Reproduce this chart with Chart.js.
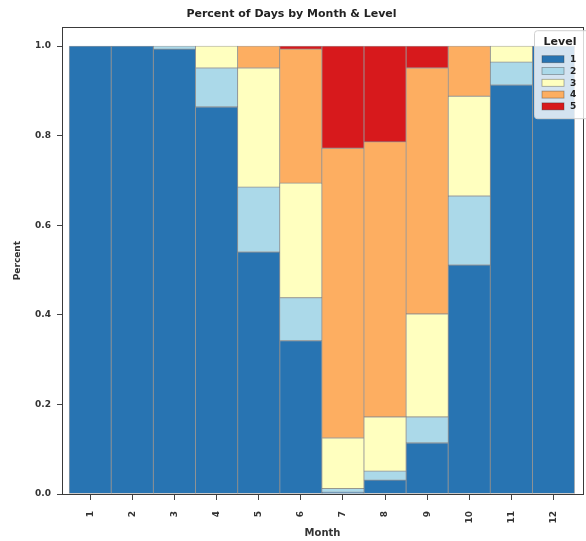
<!DOCTYPE html>
<html>
<head>
<meta charset="utf-8">
<script src="https://cdn.jsdelivr.net/npm/chart.js@4.4.1/dist/chart.umd.min.js"></script>
<style>
  html, body { margin: 0; padding: 0; background: #ffffff; }
  #wrap { width: 586px; height: 541px; }
</style>
</head>
<body>
<div id="wrap"><canvas id="c" width="586" height="541"></canvas></div>
<script>
// Months on the x axis
const months = [1, 2, 3, 4, 5, 6, 7, 8, 9, 10, 11, 12];
// Share of days at each level, per month
const level1 = [1.000, 1.000, 0.993, 0.864, 0.540, 0.342, 0.004, 0.031, 0.114, 0.511, 0.913, 1.000];
const level2 = [0.000, 0.000, 0.007, 0.087, 0.145, 0.096, 0.008, 0.020, 0.058, 0.154, 0.051, 0.000];
const level3 = [0.000, 0.000, 0.000, 0.049, 0.266, 0.256, 0.113, 0.121, 0.230, 0.223, 0.036, 0.000];
const level4 = [0.000, 0.000, 0.000, 0.000, 0.049, 0.299, 0.647, 0.614, 0.549, 0.112, 0.000, 0.000];
const level5 = [0.000, 0.000, 0.000, 0.000, 0.000, 0.007, 0.228, 0.214, 0.049, 0.000, 0.000, 0.000];
const levelNames = ['1', '2', '3', '4', '5'];
const yTicks = [0.0, 0.2, 0.4, 0.6, 0.8, 1.0];

const levelColors = ['#2874b2', '#abd9e9', '#ffffbf', '#fdae61', '#d7191c'];
const edgeColor = 'rgba(50,50,50,0.45)';
const FONT = '"DejaVu Sans", "Liberation Sans", sans-serif';

const levels = [level1, level2, level3, level4, level5];
const datasets = levels.map((vals, i) => ({
  label: levelNames[i],
  data: months.map((m, j) => ({ x: m, y: vals[j] > 0 ? vals[j] : null })),
  backgroundColor: levelColors[i],
  borderColor: edgeColor,
  borderWidth: 0.8,
  borderSkipped: false,
  barPercentage: 1.0,
  categoryPercentage: 1.0
}));

// Axes frame drawn around the plot area
const framePlugin = {
  id: 'frame',
  afterDatasetsDraw(chart) {
    const { ctx, chartArea: a } = chart;
    ctx.save();
    ctx.strokeStyle = '#3a3a3a';
    ctx.lineWidth = 1;
    ctx.strokeRect(Math.round(a.left) + 0.5, Math.round(a.top) + 0.5,
                   Math.round(a.right - a.left), Math.round(a.bottom - a.top));
    ctx.restore();
  }
};

// Level legend in the upper right corner of the plot
const legendPlugin = {
  id: 'levelLegend',
  afterDraw(chart) {
    const { ctx, chartArea: a } = chart;
    const x0 = a.right - 49, y0 = a.top + 3, w = 60, h = 88;
    ctx.save();
    ctx.fillStyle = 'rgba(255,255,255,0.8)';
    ctx.strokeStyle = '#d0d0d0';
    ctx.lineWidth = 1;
    ctx.beginPath();
    ctx.roundRect(x0 + 0.5, y0 + 0.5, w, h, 3);
    ctx.fill();
    ctx.stroke();
    ctx.fillStyle = '#222';
    ctx.font = 'bold 11px ' + FONT;
    ctx.textAlign = 'center';
    ctx.textBaseline = 'middle';
    ctx.fillText('Level', x0 + 26, y0 + 12);
    ctx.font = 'bold 9px ' + FONT;
    ctx.textAlign = 'left';
    levelNames.forEach((name, i) => {
      const cy = y0 + 29 + i * 11.8;
      ctx.fillStyle = levelColors[i];
      ctx.fillRect(x0 + 8, cy - 3.5, 22, 7);
      ctx.strokeStyle = edgeColor;
      ctx.lineWidth = 0.8;
      ctx.strokeRect(x0 + 8, cy - 3.5, 22, 7);
      ctx.fillStyle = '#222';
      ctx.fillText(name, x0 + 36, cy + 0.5);
    });
    ctx.restore();
  }
};

new Chart(document.getElementById('c'), {
  type: 'bar',
  data: { datasets },
  options: {
    responsive: false,
    animation: false,
    devicePixelRatio: 1,
    layout: { padding: { left: 0, right: 3, top: 0, bottom: 0 } },
    plugins: {
      legend: { display: false },
      tooltip: { enabled: false },
      title: {
        display: true,
        text: 'Percent of Days by Month & Level',
        color: '#222',
        font: { family: FONT, size: 11, weight: 'bold' },
        padding: { top: 8, bottom: 6 }
      }
    },
    scales: {
      x: {
        type: 'linear',
        stacked: true,
        offset: false,
        min: 0.33,
        max: 12.7,
        afterBuildTicks(scale) { scale.ticks = months.map(v => ({ value: v })); },
        afterFit(scale) { scale.height = 47; },
        ticks: {
          minRotation: 90,
          maxRotation: 90,
          color: '#333',
          font: { family: FONT, size: 9, weight: 'bold' },
          padding: 11,
          callback: v => String(v)
        },
        grid: { offset: false, drawOnChartArea: false, drawTicks: true, tickLength: 6, tickColor: '#444' },
        border: { display: true, color: '#3a3a3a' },
        title: {
          display: true,
          text: 'Month',
          color: '#333',
          font: { family: FONT, size: 10, weight: 'bold' },
          padding: { top: 0, bottom: 2 }
        }
      },
      y: {
        stacked: true,
        min: 0,
        max: 1.042,
        afterBuildTicks(scale) { scale.ticks = yTicks.map(v => ({ value: v })); },
        afterFit(scale) { scale.width = 62; },
        ticks: {
          color: '#333',
          font: { family: FONT, size: 9, weight: 'bold' },
          padding: 6,
          callback: v => Number(v).toFixed(1)
        },
        grid: { drawOnChartArea: false, drawTicks: true, tickLength: 5, tickColor: '#444' },
        border: { display: true, color: '#3a3a3a' },
        title: {
          display: true,
          text: 'Percent',
          color: '#333',
          font: { family: FONT, size: 9, weight: 'bold' },
          padding: { top: 12, bottom: 0 }
        }
      }
    }
  },
  plugins: [framePlugin, legendPlugin]
});
</script>
</body>
</html>
